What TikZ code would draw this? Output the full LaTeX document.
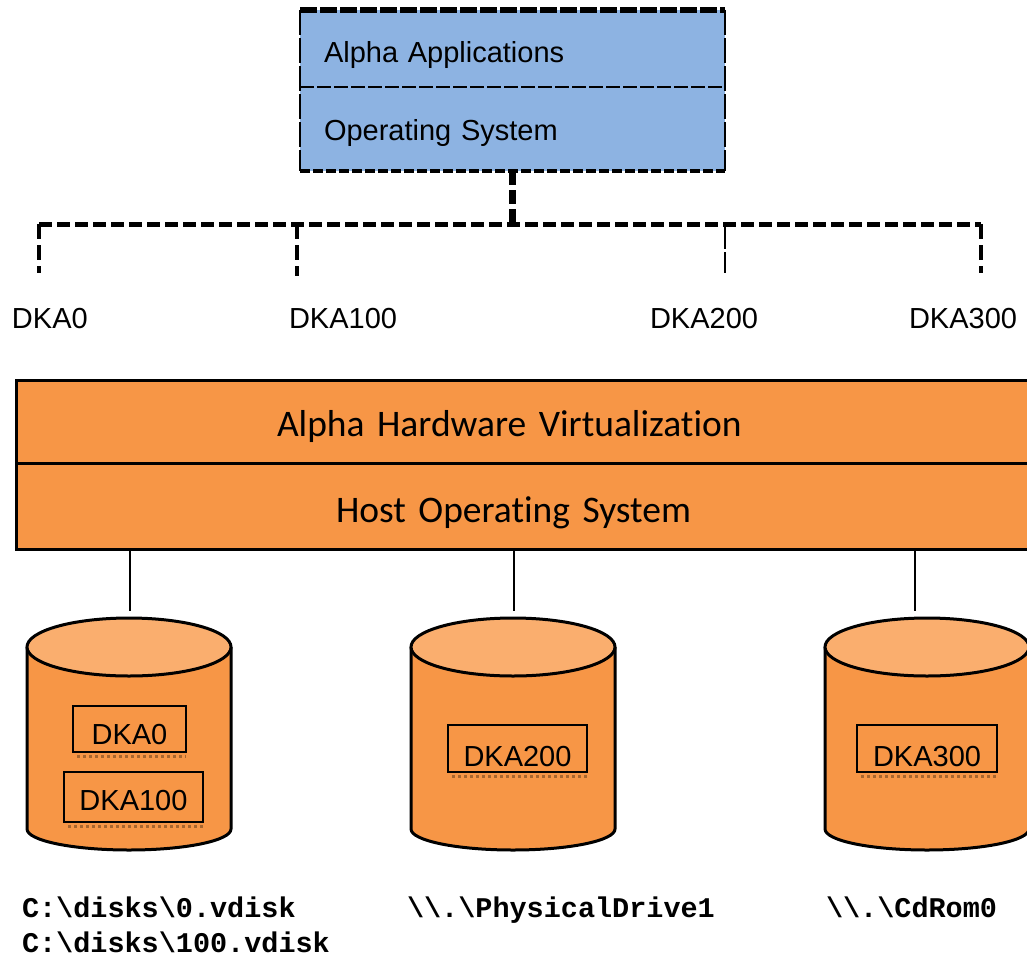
\documentclass[tikz,border=0pt]{standalone}
\usepackage{fontspec}
\setmainfont{Liberation Sans}
\newfontfamily\calfont[Ligatures=NoCommon]{Carlito}
\newfontfamily\monofont{Liberation Mono}[BoldFont={Liberation Mono Bold}]
\definecolor{bluefill}{HTML}{8DB3E2}
\definecolor{orangefill}{HTML}{F79646}
\definecolor{orangetop}{HTML}{FAAE6E}
\definecolor{shade}{HTML}{A8662E}
\tikzset{
  x=1pt,y=-1pt,
  every node/.style={inner sep=0pt,outer sep=0pt,text=black},
  armfont/.style={font=\fontsize{29}{29}\selectfont},
  calibfont/.style={font=\calfont\fontsize{37.5}{37.5}\selectfont},
  pathfont/.style={font=\monofont\bfseries\fontsize{28.5}{28.5}\selectfont},
  toplayer/.style={fill=bluefill,armfont,minimum width=425pt,align=left,inner xsep=24pt,text width=377pt,text depth=0pt},
  hostlayer/.style={fill=orangefill,draw=black,line width=3pt,calibfont,minimum width=1040pt,align=left,text depth=0pt},
  diskbox/.style={draw=black,line width=2.5pt,armfont,text depth=0pt,align=center},
  diskshade/.style={draw=shade,line width=3pt,dash pattern=on 3pt off 3pt},
  toplabel/.style={armfont,anchor=base west},
  pathlabel/.style={pathfont,anchor=base west},
  thindash/.style={line width=2.5pt,dash pattern=on 25pt off 3pt},
  busdash/.style={line width=5pt,dash pattern=on 13pt off 5pt},
  dropdash/.style={line width=4.5pt,dash pattern=on 15pt off 6pt},
  link/.style={line width=2.5pt,draw=black},
}
\newcommand{\diskcyl}[1]{%
  \fill[orangefill] (#1,647) -- (#1,829) arc[start angle=180,end angle=360,x radius=102pt,y radius=21pt] -- (#1+204,647) -- cycle;
  \draw[line width=3pt] (#1,647) -- (#1,829) arc[start angle=180,end angle=360,x radius=102pt,y radius=21pt] -- (#1+204,647);
  \draw[line width=3pt,fill=orangetop] (#1+102,647) ellipse[x radius=102pt,y radius=29pt];
}
\begin{document}
\begin{tikzpicture}
\useasboundingbox (0,0) rectangle (1027,958);
\clip (0,0) rectangle (1027,958);
% guest system
\node[toplayer,minimum height=77pt,text height=28pt] (apps) at (512.5,48.5) {Alpha Applications};
\node[toplayer,minimum height=84pt,text height=23pt] (guestos) at (512.5,129) {Operating System};
\draw[line width=5.5pt,dash pattern=on 17pt off 3pt] (apps.north west) -- (apps.north east);
\draw[line width=2.5pt,dash pattern=on 14pt off 3pt] (apps.south west) -- (apps.south east);
\draw[line width=3.5pt,dash pattern=on 10pt off 3pt] (guestos.south west) -- (guestos.south east);
\draw[thindash] (apps.north west) -- (guestos.south west);
\draw[thindash] (apps.north east) -- (guestos.south east);
% dashed bus
\coordinate (busmid) at (guestos.south |- 0,224);
\coordinate (drop0) at (39,273);
\coordinate (drop1) at (297,276);
\coordinate (drop2) at (725,273);
\coordinate (drop3) at (981,273);
\draw[line width=6.5pt,dash pattern=on 14pt off 5pt] (guestos.south) -- (busmid);
\draw[busdash] (drop0 |- busmid) -- (drop3 |- busmid);
\draw[dropdash] (drop0 |- busmid) -- (drop0);
\draw[dropdash] (drop1 |- busmid) -- (drop1);
\draw[thindash] (drop2 |- busmid) -- (drop2);
\draw[dropdash] (drop3 |- busmid) -- (drop3);
% device names
\node[toplabel] (n0) at (12,328) {DKA0};
\node[toplabel] (n1) at (289,328) {DKA100};
\node[toplabel] (n2) at (650,328) {DKA200};
\node[toplabel] (n3) at (909,328) {DKA300};
% host
\node[hostlayer,minimum height=83pt,text height=29pt,inner xsep=261pt,text width=518pt] (virt) at (536,421.5) {Alpha Hardware Virtualization};
\node[hostlayer,minimum height=86pt,text height=32pt,inner xsep=320pt,text width=400pt] (hostos) at (536,506) {Host Operating System};
% links
\coordinate (t1) at (130,611);
\coordinate (t2) at (514,611);
\coordinate (t3) at (915,611);
\draw[link] (t1 |- hostos.south) -- (t1);
\draw[link] (t2 |- hostos.south) -- (t2);
\draw[link] (t3 |- hostos.south) -- (t3);
% disks
\diskcyl{27}
\diskcyl{411}
\diskcyl{825}
\node[diskbox,text height=30pt,minimum width=113pt,minimum height=46pt] (b0) at (129.5,729) {DKA0};
\node[diskbox,text height=26pt,minimum width=139pt,minimum height=50pt] (b1) at (133.5,797) {DKA100};
\node[diskbox,text height=36pt,minimum width=139pt,minimum height=47pt] (b2) at (517.5,748.5) {DKA200};
\node[diskbox,text height=36pt,minimum width=140pt,minimum height=47pt] (b3) at (927,748.5) {DKA300};
\draw[diskshade] ([shift={(4pt,-4pt)}]b0.south west) -- ([shift={(0pt,-4pt)}]b0.south east);
\draw[diskshade] ([shift={(4pt,-4pt)}]b1.south west) -- ([shift={(0pt,-4pt)}]b1.south east);
\draw[diskshade] ([shift={(4pt,-4pt)}]b2.south west) -- ([shift={(0pt,-4pt)}]b2.south east);
\draw[diskshade] ([shift={(4pt,-4pt)}]b3.south west) -- ([shift={(0pt,-4pt)}]b3.south east);
% paths
\node[pathlabel] (p0) at (22,917) {C:\textbackslash disks\textbackslash 0.vdisk};
\node[pathlabel] (p1) at (22,952) {C:\textbackslash disks\textbackslash 100.vdisk};
\node[pathlabel] (p2) at (407,917) {\textbackslash\textbackslash.\textbackslash PhysicalDrive1};
\node[pathlabel] (p3) at (826,917) {\textbackslash\textbackslash.\textbackslash CdRom0};
\end{tikzpicture}
\end{document}
